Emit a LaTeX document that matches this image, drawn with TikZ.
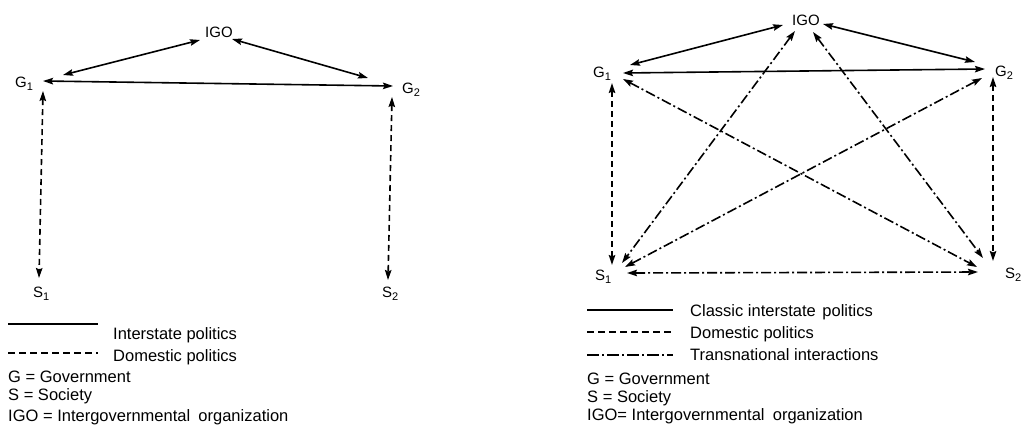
\documentclass[tikz,border=0pt]{standalone}
\usepackage{fontspec}
\setmainfont{Liberation Sans}
\usetikzlibrary{arrows.meta}
\newcommand\lsub[1]{\raisebox{-3.5pt}{\fontsize{11}{11}\selectfont #1}}
\begin{document}
\begin{tikzpicture}[x=1pt,y=-1pt,
  lbl/.style={anchor=base west, inner sep=0pt, font=\fontsize{15}{15}\selectfont},
  leg/.style={anchor=base west, inner sep=0pt, font=\fontsize{16.5}{17}\selectfont},
  link/.style={line width=1.6pt, {Stealth[length=10pt,width=6.5pt,inset=1.5pt]}-{Stealth[length=10pt,width=6.5pt,inset=1.5pt]}},
  solidl/.style={link},
  dashl/.style={link, dash pattern=on 6pt off 4pt},
  dotl/.style={link, dash pattern=on 10pt off 3pt on 2pt off 3pt},
  legline/.style={line width=1.3pt}
]
\useasboundingbox (0,0) rectangle (1023,426);

% ---------- left diagram ----------
\node[lbl] (igoL) at (205,37) {IGO};
\node[lbl] (g1L) at (15,87) {G\lsub{1}};
\node[lbl] (g2L) at (402,93) {G\lsub{2}};
\node[lbl] (s1L) at (33,297) {S\lsub{1}};
\node[lbl] (s2L) at (382,297) {S\lsub{2}};

\draw[solidl] ([shift={(-5,3)}]igoL.base west) -- ([shift={(48,-12)}]g1L.base west);
\draw[solidl] ([shift={(27,2)}]igoL.base west) -- ([shift={(-34,-15)}]g2L.base west);
\draw[solidl] ([shift={(28,-6)}]g1L.base west) -- ([shift={(-9,-7)}]g2L.base west);
\draw[dashl] ([shift={(28,4)}]g1L.base west) -- ([shift={(6,-19)}]s1L.base west);
\draw[dashl] ([shift={(-10,4)}]g2L.base west) -- ([shift={(6,-17)}]s2L.base west);

% left legend
\coordinate (la1) at (8,324); \coordinate (lb1) at (98,324);
\coordinate (la2) at (8,353); \coordinate (lb2) at (98,353);
\draw[legline] (la1) -- (lb1);
\draw[legline, dash pattern=on 7pt off 4pt] (la2) -- (lb2);
\node[leg] (lt1) at (113,339) {Interstate politics};
\node[leg] (lt2) at (113,361) {Domestic politics};
\node[leg] (lt3) at (8,382) {G = Government};
\node[leg] (lt4) at (8,400) {S = Society};
\node[leg] (lt5) at (8,421) {IGO = Intergovernmental\hspace{0.5em}organization};

% ---------- right diagram ----------
\node[lbl] (igoR) at (792,25) {IGO};
\node[lbl] (g1R) at (593,77) {G\lsub{1}};
\node[lbl] (g2R) at (995,76) {G\lsub{2}};
\node[lbl] (s1R) at (595,280) {S\lsub{1}};
\node[lbl] (s2R) at (1005,278) {S\lsub{2}};

\draw[solidl] ([shift={(-9,0)}]igoR.base west) -- ([shift={(37,-12)}]g1R.base west);
\draw[solidl] ([shift={(31,-1)}]igoR.base west) -- ([shift={(-20,-14)}]g2R.base west);
\draw[solidl] ([shift={(30,-4)}]g1R.base west) -- ([shift={(-10,-7)}]g2R.base west);
\draw[dashl] ([shift={(19,6)}]g1R.base west) -- ([shift={(17,-15)}]s1R.base west);
\draw[dashl] ([shift={(-2,1)}]g2R.base west) -- ([shift={(-12,-17)}]s2R.base west);
\draw[dotl] ([shift={(3,6)}]igoR.base west) -- ([shift={(27,-17)}]s1R.base west);
\draw[dotl] ([shift={(21,7)}]igoR.base west) -- ([shift={(-22,-20)}]s2R.base west);
\draw[dotl] ([shift={(30,2)}]g1R.base west) -- ([shift={(-28,-11)}]s2R.base west);
\draw[dotl] ([shift={(-13,2)}]g2R.base west) -- ([shift={(30,-13)}]s1R.base west);
\draw[dotl] ([shift={(32,-7)}]s1R.base west) -- ([shift={(-27,-6)}]s2R.base west);

% right legend
\coordinate (ra1) at (587,310); \coordinate (rb1) at (673,310);
\coordinate (ra2) at (587,332); \coordinate (rb2) at (673,332);
\coordinate (ra3) at (587,355); \coordinate (rb3) at (673,355);
\draw[legline] (ra1) -- (rb1);
\draw[legline, dash pattern=on 7pt off 4pt] (ra2) -- (rb2);
\draw[legline, dash pattern=on 12pt off 3pt on 2pt off 3pt] (ra3) -- (rb3);
\node[leg] (rt1) at (690,316) {Classic interstate\hspace{0.4em}politics};
\node[leg] (rt2) at (690,338) {Domestic politics};
\node[leg] (rt3) at (690,360) {Transnational interactions};
\node[leg] (rt4) at (587,384) {G = Government};
\node[leg] (rt5) at (587,402) {S = Society};
\node[leg] (rt6) at (587,420) {IGO= Intergovernmental\hspace{0.5em}organization};
\end{tikzpicture}
\end{document}
